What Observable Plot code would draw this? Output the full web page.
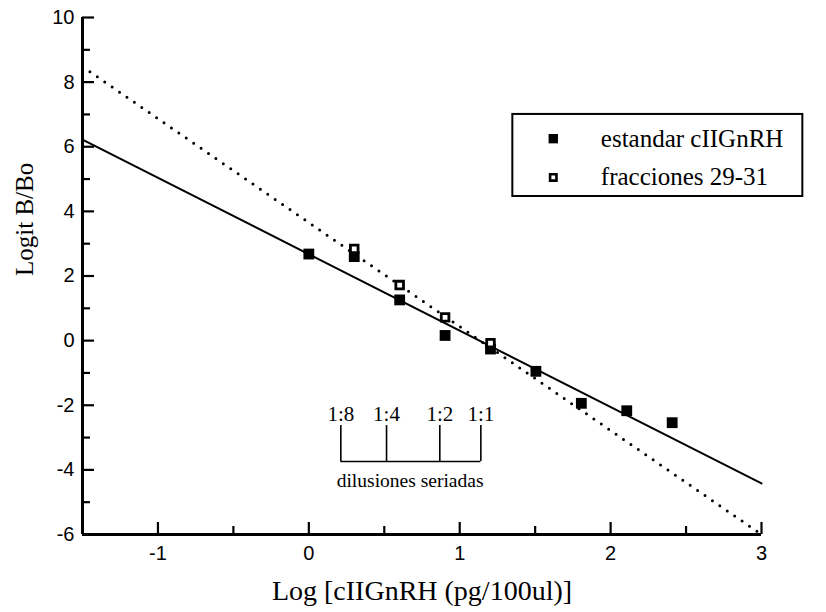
<!DOCTYPE html>
<html>
<head>
<meta charset="utf-8">
<script src="https://cdn.jsdelivr.net/npm/d3@7"></script>
<script src="https://cdn.jsdelivr.net/npm/@observablehq/plot@0.6"></script>
<style>
  html, body { margin: 0; padding: 0; background: #fff; }
</style>
</head>
<body>
<div id="chart"></div>
<script>
// ---- data ----
const stdX = [0, 0.301, 0.602, 0.903, 1.204, 1.505, 1.806, 2.107, 2.408];
const stdY = [2.68, 2.60, 1.26, 0.16, -0.26, -0.95, -1.94, -2.17, -2.54];
const fracX = [0.301, 0.602, 0.903, 1.204];
const fracY = [2.84, 1.72, 0.72, -0.08];
const fitX = [-1.5, 3];
const fitStdY = [6.22, -4.42];
const fitFracY = [8.48, -6.0];
const seriesNames = ["estandar cIIGnRH", "fracciones 29-31"];
const xMajor = [-1, 0, 1, 2, 3];
const xMinor = [-0.5, 0.5, 1.5, 2.5];
const yMajor = [-6, -4, -2, 0, 2, 4, 6, 8, 10];
const yMinor = [-5, -3, -1, 1, 3, 5, 7, 9];
const dilutionLabels = ["1:8", "1:4", "1:2", "1:1"];
const dilutionX = [0.212, 0.515, 0.868, 1.140];
const dilutionTitle = "dilusiones seriadas";
const xTitle = "Log [cIIGnRH (pg/100ul)]";
const yTitle = "Logit B/Bo";

// ---- tables ----
const std = stdX.map((x, i) => ({x, y: stdY[i]}));
const frac = fracX.map((x, i) => ({x, y: fracY[i]}));
const fitStd = fitX.map((x, i) => ({x, y: fitStdY[i]}));
const fitFrac = fitX.map((x, i) => ({x, y: fitFracY[i]}));

const W = 826, H = 612;
const mL = 82, mR = 65, mT = 17, mB = 78;
const plotW = W - mL - mR, plotH = H - mT - mB;
const serif = "'Liberation Serif', 'Times New Roman', serif";
const sans = "'Liberation Sans', Arial, sans-serif";

// legend placement (in data coordinates of the frame)
const leg = {x1: 1.352, x2: 3.274, y1: 4.46, y2: 7.0, mx: 1.62, tx: 1.935, rows: [6.25, 5.05]};
// dilution bracket
const dil = {top: -2.63, bottom: -3.74, labelY: -2.27, titleX: 0.671, titleY: -4.33};

const chart = Plot.plot({
  width: W, height: H,
  marginLeft: mL, marginRight: mR, marginTop: mT, marginBottom: mB,
  style: {fontFamily: sans, background: "#fff", color: "#000"},
  x: {domain: [-1.5, 3]},
  y: {domain: [-6, 10]},
  marks: [
    // fit lines
    Plot.line(fitFrac, {x: "x", y: "y", stroke: "#000", strokeWidth: 3,
      strokeDasharray: "0,9", strokeLinecap: "round"}),
    Plot.line(fitStd, {x: "x", y: "y", stroke: "#000", strokeWidth: 2}),
    // axis lines
    Plot.ruleX([-1.5], {stroke: "#000", strokeWidth: 3}),
    Plot.ruleY([-6], {stroke: "#000", strokeWidth: 3}),
    // inward ticks
    Plot.tickX(xMajor, {x: d => d, insetTop: plotH - 12, stroke: "#000", strokeWidth: 2.2}),
    Plot.tickX(xMinor, {x: d => d, insetTop: plotH - 8, stroke: "#000", strokeWidth: 2.2}),
    Plot.tickY(yMajor, {y: d => d, insetRight: plotW - 12, stroke: "#000", strokeWidth: 2.2}),
    Plot.tickY(yMinor, {y: d => d, insetRight: plotW - 8, stroke: "#000", strokeWidth: 2.2}),
    // tick labels
    Plot.axisX({ticks: xMajor, tickSize: 0, tickPadding: 11, tickFormat: d => String(d),
      fontSize: 20, label: null, fontFamily: sans}),
    Plot.axisY({ticks: yMajor, tickSize: 0, tickPadding: 8, tickFormat: d => String(d),
      fontSize: 20, label: null, fontFamily: sans}),
    // axis titles
    Plot.text([xTitle], {frameAnchor: "bottom", dy: 57, text: d => d, fontSize: 28,
      fontFamily: serif, lineAnchor: "middle", letterSpacing: "-0.4px"}),
    Plot.text([yTitle], {frameAnchor: "left", dx: -58, text: d => d, fontSize: 25,
      fontFamily: serif, rotate: -90, lineAnchor: "middle"}),
    // dilution bracket
    Plot.ruleX(dilutionX, {x: d => d, y1: dil.top, y2: dil.bottom, stroke: "#000", strokeWidth: 1.6}),
    Plot.ruleY([dil.bottom], {x1: dilutionX[0], x2: dilutionX[dilutionX.length - 1], stroke: "#000", strokeWidth: 1.6}),
    Plot.text(dilutionLabels, {x: (d, i) => dilutionX[i], y: dil.labelY, text: d => d,
      fontSize: 21, fontFamily: serif}),
    Plot.text([dilutionTitle], {x: dil.titleX, y: dil.titleY, text: d => d, fontSize: 19.5,
      fontFamily: serif, letterSpacing: "-0.3px"}),
    // data points
    Plot.dot(std, {x: "x", y: "y", symbol: "square", r: 6.1, fill: "#000", stroke: "none"}),
    Plot.dot(frac, {x: "x", y: "y", symbol: "square", r: 4.3, fill: "#fff", stroke: "#000", strokeWidth: 2.8}),
    // legend
    Plot.rect([0], {x1: leg.x1, x2: leg.x2, y1: leg.y1, y2: leg.y2, fill: "#fff", stroke: "#000", strokeWidth: 2}),
    Plot.dot([0], {x: leg.mx, y: leg.rows[0], symbol: "square", r: 5.3, fill: "#000", stroke: "none"}),
    Plot.dot([0], {x: leg.mx, y: leg.rows[1], symbol: "square", r: 3.6, fill: "#fff", stroke: "#000", strokeWidth: 2.6}),
    Plot.text(seriesNames, {x: leg.tx, y: (d, i) => leg.rows[i], text: d => d, textAnchor: "start",
      fontSize: 25, fontFamily: serif})
  ]
});

document.getElementById("chart").appendChild(chart);
</script>
</body>
</html>
